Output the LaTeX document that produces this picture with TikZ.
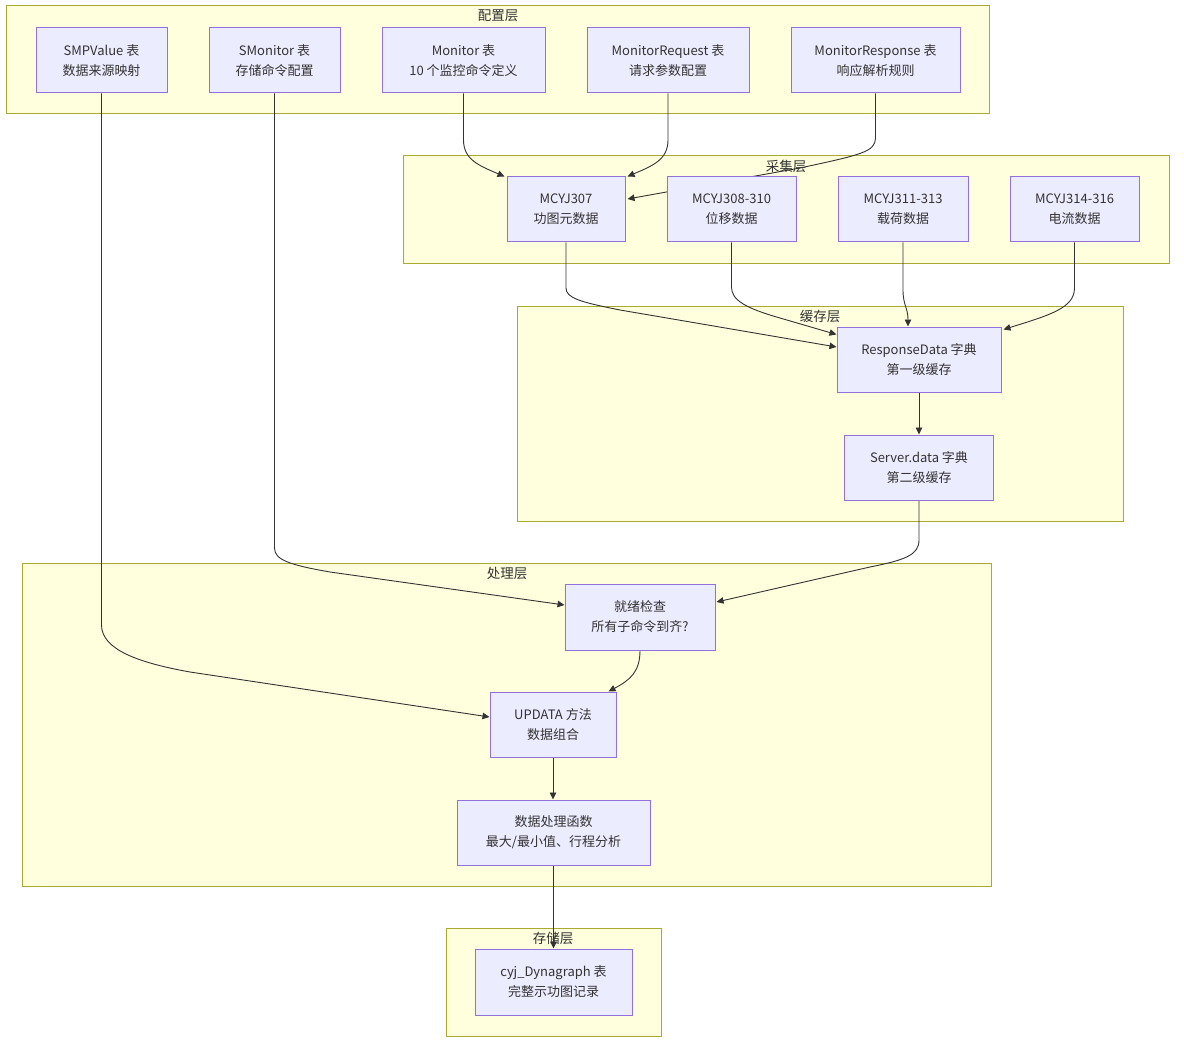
\documentclass[tikz,border=0pt]{standalone}
\usepackage{fontspec}
\setmainfont{Noto Sans CJK SC}
\usetikzlibrary{arrows.meta,calc}
\pgfdeclarelayer{bg}
\pgfdeclarelayer{edges}
\pgfsetlayers{bg,edges,main}
\definecolor{clfill}{HTML}{FFFFDE}
\definecolor{clstroke}{HTML}{AAAA33}
\definecolor{nfill}{HTML}{ECECFF}
\definecolor{nstroke}{HTML}{9370DB}
\definecolor{ink}{HTML}{333333}
\tikzset{
  box/.style={draw=nstroke, fill=nfill, line width=1pt, inner sep=0pt, align=center,
    font=\fontsize{13}{20}\selectfont, text=ink},
  cluster/.style={draw=clstroke, fill=clfill, line width=1pt},
  ctitle/.style={font=\fontsize{13.5}{16}\selectfont, text=ink, inner sep=0pt},
  conn/.style={draw=ink, line width=0.9pt, -{Triangle[length=7pt,width=6.5pt]}}
}
\begin{document}
\begin{tikzpicture}[x=1pt,y=-1pt]
\useasboundingbox (0,0) rectangle (1184,1051);
\begin{pgfonlayer}{bg}
  \fill[white] (0,0) rectangle (1184,1051);
  \draw[cluster] (6,6) rectangle (989,114);
  \node[ctitle] (t1) at (498,16) {配置层};
  \draw[cluster] (403,156) rectangle (1169,264);
  \node[ctitle] (t2) at (786,166) {采集层};
  \draw[cluster] (517,306) rectangle (1123,521);
  \node[ctitle] (t3) at (820,316) {缓存层};
  \draw[cluster] (22,563) rectangle (991,886);
  \node[ctitle] (t4) at (507,573) {处理层};
  \draw[cluster] (446,928) rectangle (661,1036);
  \node[ctitle] (t5) at (553,938) {存储层};
\end{pgfonlayer}
% config layer
\node[box, minimum width=131pt, minimum height=65pt] (smp) at (101.5,60.5) {SMPValue 表\\数据来源映射};
\node[box, minimum width=131pt, minimum height=65pt] (smon) at (274.5,60.5) {SMonitor 表\\存储命令配置};
\node[box, minimum width=163pt, minimum height=65pt] (mon) at (463.5,60.5) {Monitor 表\\10 个监控命令定义};
\node[box, minimum width=162pt, minimum height=65pt] (req) at (668,60.5) {MonitorRequest 表\\请求参数配置};
\node[box, minimum width=169pt, minimum height=65pt] (resp) at (875.5,60.5) {MonitorResponse 表\\响应解析规则};
% acquisition layer
\node[box, minimum width=118pt, minimum height=65pt] (m307) at (566,209.5) {MCYJ307\\功图元数据};
\node[box, minimum width=129pt, minimum height=65pt] (m308) at (731.5,209.5) {MCYJ308-310\\位移数据};
\node[box, minimum width=130pt, minimum height=65pt] (m311) at (903,209.5) {MCYJ311-313\\载荷数据};
\node[box, minimum width=129pt, minimum height=65pt] (m314) at (1074.5,209.5) {MCYJ314-316\\电流数据};
% cache layer
\node[box, minimum width=164pt, minimum height=65pt] (rd) at (919,359.5) {ResponseData 字典\\第一级缓存};
\node[box, minimum width=149pt, minimum height=65pt] (sd) at (919,467.5) {Server.data 字典\\第二级缓存};
% processing layer
\node[box, minimum width=150pt, minimum height=66pt] (ready) at (640,617) {就绪检查\\所有子命令到齐?};
\node[box, minimum width=126pt, minimum height=65pt] (upd) at (553,724.5) {UPDATA 方法\\数据组合};
\node[box, minimum width=193pt, minimum height=65pt] (proc) at (553.5,832.5) {数据处理函数\\最大/最小值、行程分析};
% storage layer
\node[box, minimum width=157pt, minimum height=66pt] (cyj) at (553.5,982) {cyj\_Dynagraph 表\\完整示功图记录};

\begin{pgfonlayer}{edges}
  \draw[conn] (mon.south) -- (463.5,140) .. controls (463.5,160) and (480,166) .. ([xshift=-2pt]m307.north west);
  \draw[conn] (req.south) -- (668,140) .. controls (668,160) and (652,166) .. ([xshift=2pt]m307.north east);
  \draw[conn] (resp.south) -- (875.5,138) .. controls (875.5,152) and (860,155) .. (800,168) -- ([yshift=10.5pt,xshift=2pt]m307.east);
  \draw[conn] (m307.south) -- (566,288) .. controls (566,298) and (580,302) .. (620,310) -- ([yshift=12.5pt]rd.west);
  \draw[conn] (m308.south) -- (731.5,287) .. controls (731.5,300) and (745,308) .. (780,318) -- ([yshift=-8pt]rd.north west);
  \draw[conn] (m311.south) -- (903,290) .. controls (903,305) and (908,308) .. ([xshift=-11pt]rd.north);
  \draw[conn] (m314.south) -- (1074.5,288) .. controls (1074.5,308) and (1050,315) .. ([yshift=-3pt,xshift=2pt]rd.north east);
  \draw[conn] (rd.south) -- (rd.south|-sd.north);
  \draw[conn] (smon.south) -- (274.5,548) .. controls (274.5,560) and (290,565) .. (330,572) -- ([yshift=12pt]ready.west);
  \draw[conn] (sd.south) -- (919,540) .. controls (919,555) and (905,560) .. (870,567) -- ([yshift=15pt,xshift=1pt]ready.east);
  \draw[conn] (ready.south) .. controls (640,672) and (630,680) .. ([xshift=-8pt]upd.north east);
  \draw[conn] (smp.south) -- (101.5,625) .. controls (101.5,650) and (140,663) .. (190,672) -- ([yshift=7.5pt]upd.west);
  \draw[conn] (upd.south) -- (upd.south|-proc.north);
  \draw[conn] (proc.south) -- (proc.south|-cyj.north);
\end{pgfonlayer}
\end{tikzpicture}
\end{document}
